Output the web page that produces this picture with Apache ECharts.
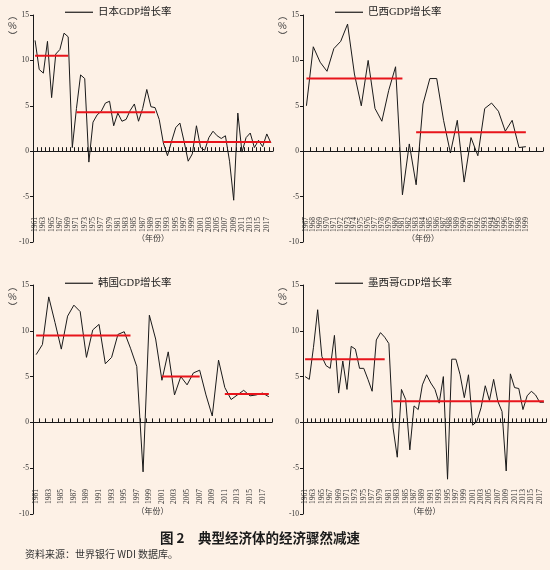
<!DOCTYPE html>
<html><head><meta charset="utf-8">
<script src="https://cdn.jsdelivr.net/npm/echarts@6/dist/echarts.min.js"></script>
<style>html,body{margin:0;padding:0;background:#FDF1E6}#c{width:550px;height:570px}</style>
</head><body><div id="c"></div>
<script>
function years(a, b) { const r = []; for (let y = a; y <= b; y++) r.push(String(y)); return r; }

// ---- Japan ----
const jpYears = years(1961, 2018);
const jpGrowth = [12.2,9.0,8.6,12.1,5.9,10.7,11.2,13.0,12.6,0.4,
  4.7,8.4,8.0,-1.2,3.2,4.0,4.4,5.3,5.5,2.8,
  4.2,3.3,3.5,4.5,5.2,3.3,4.7,6.8,4.9,4.8,
  3.5,0.9,-0.5,1.1,2.6,3.1,1.1,-1.1,-0.3,2.8,
  0.4,0.1,1.5,2.2,1.7,1.4,1.7,-1.1,-5.4,4.2,
  -0.1,1.5,2.0,0.4,1.2,0.5,1.9,0.9];
const jpMeanFrom = [1961, 1971, 1992];
const jpMeanTo = [1969, 1990, 2018];
const jpMeanValue = [10.5, 4.3, 1.0];

// ---- Brazil ----
const brYears = years(1967, 1999).concat(['', ' ']);
const brGrowth = [5.0,11.5,9.8,8.8,11.3,12.1,14.0,8.5,5.0,10.0,
  4.7,3.3,6.7,9.3,-4.8,0.8,-3.7,5.2,8.0,8.0,
  3.4,-0.2,3.4,-3.4,1.5,-0.5,4.7,5.3,4.4,2.2,
  3.4,0.4,0.5];
const brMeanFrom = [1967, 1983];
const brMeanTo = [1981, 1999];
const brMeanValue = [8.0, 2.1];

// ---- Korea ----
const krYears = years(1981, 2018);
const krGrowth = [7.4,8.5,13.7,10.9,8.0,11.6,12.8,12.1,7.1,10.1,
  10.7,6.4,7.1,9.6,9.9,8.1,6.1,-5.4,11.7,9.1,
  4.6,7.7,3.0,5.0,4.1,5.4,5.7,3.0,0.7,6.8,
  3.8,2.5,3.0,3.5,2.9,3.0,3.2,2.8];
const krMeanFrom = [1981, 2001, 2011];
const krMeanTo = [1996, 2007, 2018];
const krMeanValue = [9.5, 5.0, 3.1];

// ---- Mexico ----
const mxYears = years(1961, 2018);
const mxGrowth = [5.0,4.7,8.2,12.3,7.2,6.2,5.9,9.5,3.2,6.7,
  3.6,8.3,8.0,5.9,5.9,4.7,3.4,9.0,9.8,9.3,
  8.6,-0.6,-3.8,3.6,2.5,-3.0,1.8,1.4,4.1,5.2,
  4.3,3.6,2.1,5.0,-6.2,6.9,6.9,5.2,2.7,5.2,
  -0.3,0.1,1.6,4.0,2.4,4.7,2.3,1.2,-5.3,5.3,
  3.8,3.7,1.4,2.9,3.4,3.0,2.2,2.2];
const mxMeanFrom = [1961, 1982];
const mxMeanTo = [1980, 2018];
const mxMeanValue = [6.9, 2.3];

const yTicks = { min: -10, max: 15, interval: 5 };

const SERIF = "'Liberation Serif','Noto Sans CJK SC',serif";
const CJK = "'Noto Sans CJK SC',sans-serif";

const panels = [
  { name: '日本GDP增长率', cats: jpYears, vals: jpGrowth, from: jpMeanFrom, to: jpMeanTo, mean: jpMeanValue,
    grid: { left: 33, top: 15, width: 240, height: 227 }, legend: { left: 65, top: 7 }, interval: 1,
    unit: { left: 8, top: 10 }, nameGap: -8 },
  { name: '巴西GDP增长率', cats: brYears, vals: brGrowth, from: brMeanFrom, to: brMeanTo, mean: brMeanValue,
    grid: { left: 303, top: 15, width: 240, height: 227 }, legend: { left: 335, top: 7 }, interval: 0,
    unit: { left: 278, top: 10 }, nameGap: -8 },
  { name: '韩国GDP增长率', cats: krYears, vals: krGrowth, from: krMeanFrom, to: krMeanTo, mean: krMeanValue,
    grid: { left: 33, top: 285, width: 239, height: 229 }, legend: { left: 65, top: 278 }, interval: 1,
    unit: { left: 8, top: 281 }, nameGap: -7 },
  { name: '墨西哥GDP增长率', cats: mxYears, vals: mxGrowth, from: mxMeanFrom, to: mxMeanTo, mean: mxMeanValue,
    grid: { left: 303, top: 285, width: 243, height: 229 }, legend: { left: 335, top: 278 }, interval: 1,
    unit: { left: 278, top: 281 }, nameGap: -7 }
];

const option = {
  backgroundColor: '#FDF1E6',
  animation: false,
  title: [
    { text: '图 2　典型经济体的经济骤然减速', left: 160, top: 531, padding: 0,
      textStyle: { fontFamily: CJK, fontSize: 13.5, fontWeight: 'bold', color: '#1a1a1a' } },
    { text: '资料来源：世界银行 WDI 数据库。', left: 25, top: 549, padding: 0,
      textStyle: { fontFamily: CJK, fontSize: 10, fontWeight: 'normal', color: '#333' } }
  ],
  grid: [], xAxis: [], yAxis: [], series: [], legend: [], graphic: []
};

panels.forEach((p, i) => {
  option.grid.push(Object.assign({ outerBoundsMode: 'none', containLabel: false }, p.grid));
  option.xAxis.push({
    type: 'category', gridIndex: i, data: p.cats, boundaryGap: true,
    axisLine: { onZero: true, lineStyle: { color: '#1a1a1a', width: 1 } },
    axisTick: { show: true, inside: true, length: 4, interval: 0, lineStyle: { color: '#1a1a1a' } },
    axisLabel: { show: false }, splitLine: { show: false }
  });
  option.xAxis.push({
    type: 'category', gridIndex: i, data: p.cats, boundaryGap: true, position: 'bottom',
    axisLine: { show: false, onZero: false }, axisTick: { show: false },
    axisLabel: { rotate: 90, interval: p.interval, margin: -25, fontSize: 7.5, fontFamily: SERIF, color: '#333' },
    name: '（年份）', nameLocation: 'middle', nameGap: p.nameGap, nameMoveOverlap: false,
    nameTextStyle: { fontFamily: CJK, fontSize: 8, color: '#333' }
  });
  option.yAxis.push({
    type: 'value', gridIndex: i, min: yTicks.min, max: yTicks.max, interval: yTicks.interval,
    axisLine: { show: true, lineStyle: { color: '#1a1a1a', width: 1 } },
    axisTick: { show: true, length: 3, lineStyle: { color: '#1a1a1a' } },
    axisLabel: { margin: 4, fontSize: 7.5, fontFamily: SERIF, color: '#333' },
    splitLine: { show: false }
  });
  option.series.push({
    name: p.name, type: 'line', xAxisIndex: 2 * i, yAxisIndex: i, data: p.vals,
    symbol: 'none', lineStyle: { color: '#1a1a1a', width: 1 }, itemStyle: { color: '#1a1a1a' }, z: 2
  });
  const meanData = p.cats.map(c => {
    const y = Number(c);
    for (let k = 0; k < p.from.length; k++) {
      if (c.trim() !== '' && y >= p.from[k] && y <= p.to[k]) return p.mean[k];
    }
    return null;
  });
  option.series.push({
    name: p.name + '均值', type: 'line', xAxisIndex: 2 * i, yAxisIndex: i, data: meanData,
    symbol: 'none', connectNulls: false, lineStyle: { color: '#E8141B', width: 2 }, itemStyle: { color: '#E8141B' }, z: 3, silent: true
  });
  option.legend.push({
    data: [p.name], left: p.legend.left, top: p.legend.top, padding: 0, icon: 'rect', itemWidth: 28, itemHeight: 1.2, itemGap: 5,
    selectedMode: false, textStyle: { fontFamily: SERIF, fontSize: 10.5, color: '#1a1a1a' }
  });
  option.graphic.push({
    type: 'text', left: p.unit.left, top: p.unit.top,
    style: { text: '︵\n%\n︶', fontFamily: CJK, fontSize: 9.5, lineHeight: 10, fill: '#333', align: 'center' }
  });
});

const chart = echarts.init(document.getElementById('c'));
chart.setOption(option);
</script>
</body></html>
